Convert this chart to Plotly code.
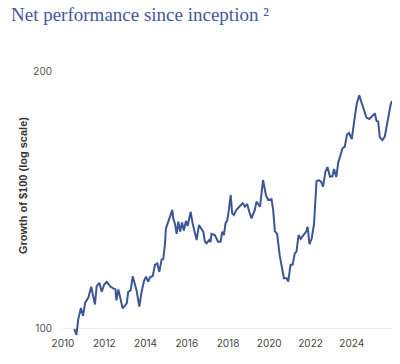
import plotly.graph_objects as go

# Decimal-year dates and growth of $100 values
years = [
    2010.55, 2010.65, 2010.74, 2010.87, 2010.97, 2011.08, 2011.23, 2011.37, 2011.45, 2011.55,
    2011.63, 2011.76, 2011.88, 2011.99, 2012.12, 2012.31, 2012.44, 2012.54, 2012.59, 2012.68,
    2012.78, 2012.89, 2013.09, 2013.16, 2013.28, 2013.38, 2013.57, 2013.70, 2013.81, 2013.92,
    2014.02, 2014.13, 2014.22, 2014.35, 2014.46, 2014.57, 2014.67, 2014.78, 2014.86, 2014.94,
    2014.99, 2015.10, 2015.23, 2015.30, 2015.34, 2015.43, 2015.51, 2015.59, 2015.68, 2015.77,
    2015.86, 2015.96, 2016.04, 2016.13, 2016.19, 2016.28, 2016.40, 2016.48, 2016.59, 2016.72,
    2016.80, 2016.88, 2016.96, 2017.09, 2017.15, 2017.20, 2017.36, 2017.52, 2017.64, 2017.72,
    2017.80, 2017.88, 2017.96, 2018.04, 2018.13, 2018.20, 2018.28, 2018.41, 2018.58, 2018.71,
    2018.82, 2018.93, 2019.03, 2019.14, 2019.30, 2019.38, 2019.55, 2019.70, 2019.84, 2019.95,
    2020.11, 2020.19, 2020.27, 2020.38, 2020.51, 2020.60, 2020.71, 2020.84, 2020.92, 2021.03,
    2021.13, 2021.24, 2021.32, 2021.42, 2021.52, 2021.64, 2021.79, 2021.86, 2021.95, 2022.06,
    2022.17, 2022.29, 2022.40, 2022.51, 2022.61, 2022.72, 2022.82, 2022.94, 2023.06, 2023.14,
    2023.25, 2023.34, 2023.42, 2023.55, 2023.66, 2023.77, 2023.87, 2024.00, 2024.15, 2024.24,
    2024.36, 2024.47, 2024.59, 2024.71, 2024.85, 2025.00, 2025.12, 2025.20, 2025.28, 2025.36,
    2025.48, 2025.60, 2025.71, 2025.80, 2025.89, 2025.95,
]
growth = [
    100.0, 98.4, 102.7, 105.8, 103.6, 107.4, 108.8, 112.0, 109.6, 106.8,
    112.1, 113.2, 110.5, 112.6, 113.5, 112.0, 111.5, 111.3, 108.0, 111.2,
    108.7, 105.7, 107.1, 110.5, 110.9, 115.2, 110.8, 106.2, 110.5, 113.6,
    115.1, 113.6, 114.9, 115.3, 118.8, 119.3, 116.6, 120.5, 120.6, 125.3,
    131.0, 133.3, 136.4, 137.7, 134.6, 132.6, 129.1, 133.4, 129.9, 133.1,
    130.3, 133.7, 131.9, 134.6, 137.0, 132.9, 129.3, 127.0, 132.2, 131.0,
    129.9, 126.4, 125.9, 127.0, 126.3, 129.1, 128.7, 126.4, 126.4, 129.9,
    128.7, 132.9, 133.8, 137.7, 143.3, 136.5, 135.8, 137.7, 138.9, 140.2,
    138.9, 139.9, 137.0, 134.6, 137.7, 140.8, 138.9, 149.2, 143.3, 141.4,
    141.7, 137.7, 130.1, 129.1, 121.7, 118.2, 114.6, 114.6, 113.6, 118.8,
    118.8, 122.6, 123.1, 128.7, 127.4, 128.5, 129.9, 131.6, 125.6, 127.6,
    132.6, 148.8, 149.2, 148.6, 146.6, 152.5, 154.5, 150.6, 150.7, 153.7,
    150.4, 156.2, 158.7, 162.5, 163.2, 168.6, 169.3, 166.6, 176.9, 183.0,
    187.4, 184.2, 179.9, 176.5, 175.8, 177.3, 178.5, 174.9, 174.6, 167.3,
    166.1, 167.7, 173.8, 179.7, 183.0, 184.5,
]

x_ticks = [2010, 2012, 2014, 2016, 2018, 2020, 2022, 2024]
x_tick_labels = ["2010", "2012", "2014", "2016", "2018", "2020", "2022", "2024"]
y_ticks = [100, 200]
y_tick_labels = ["100", "200"]

title_text = "Net performance since inception ²"
y_title = "Growth of $100 (log scale)"

W, H = 400, 364

fig = go.Figure()
fig.add_trace(go.Scatter(
    x=years, y=growth, mode="lines",
    line=dict(color="#3b5597", width=2),
    hoverinfo="skip", showlegend=False,
))

fig.update_layout(
    width=W, height=H,
    margin=dict(l=63, r=8, t=71, b=28),
    paper_bgcolor="white", plot_bgcolor="white",
    title=dict(
        text=title_text,
        font=dict(family="Liberation Serif", size=19, color="#3f5a9a"),
        x=11 / W, xanchor="left", xref="container",
        y=1 - 8 / H, yanchor="top", yref="container",
    ),
    annotations=[dict(
        text=y_title, textangle=-90, showarrow=False,
        xref="paper", yref="paper",
        x=(23 - 63) / 329, y=(336 - 186) / 265,
        xanchor="center", yanchor="middle",
        font=dict(family="Liberation Sans", size=11, color="#333333", weight="bold"),
    )],
)
fig.update_xaxes(
    range=[2010, 2025.95],
    tickmode="array", tickvals=x_ticks, ticktext=x_tick_labels,
    showgrid=False, zeroline=False, showline=False,
    ticks="", tickfont=dict(family="Inter", size=10, color="#444444"),
)
fig.update_yaxes(
    type="log", range=[1.9918, 2.30103],
    tickmode="array", tickvals=y_ticks, ticktext=y_tick_labels,
    showgrid=True, gridcolor="#ebebeb", gridwidth=1,
    zeroline=False, showline=False,
    ticks="outside", ticklen=8, tickcolor="rgba(0,0,0,0)",
    tickfont=dict(family="Inter", size=10, color="#555555"),
)

# Remove the browser's default page margin so the figure sits at the top-left corner.
fig.write_html(
    "out.html",
    config={"displayModeBar": False, "staticPlot": True},
    post_script="document.body.style.margin='0';",
)
